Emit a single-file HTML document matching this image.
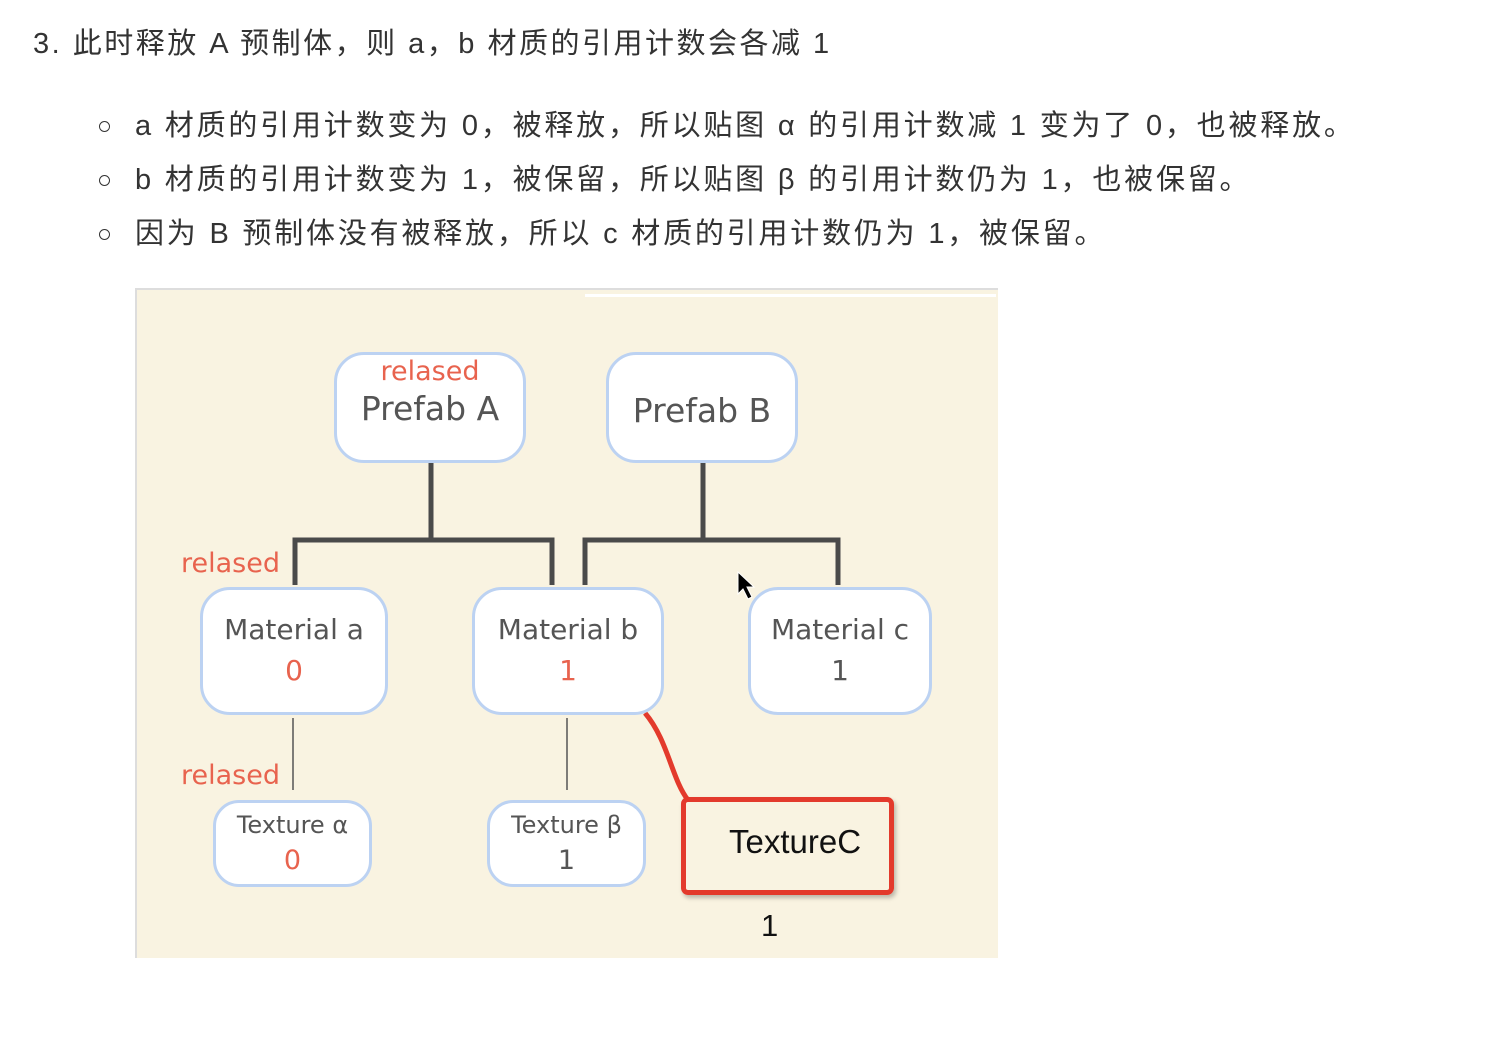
<!DOCTYPE html>
<html><head><meta charset="utf-8">
<style>
body{margin:0;width:1494px;height:1046px;background:#fff;position:relative;overflow:hidden;font-family:"Liberation Sans","Noto Sans CJK SC",sans-serif;color:#333}
.t{position:absolute;white-space:nowrap;font-size:29px;line-height:34px;letter-spacing:2.8px}
.b{position:absolute;width:9px;height:9px;border:1.6px solid #333;border-radius:50%}
.panel{position:absolute;left:135px;top:288px;width:861px;height:668px;background:#f9f3e1;border-top:2px solid #ddd;border-left:2px solid #ddd}
.n{position:absolute;background:#fff;border:3px solid #bcd2f2;border-radius:30px;box-sizing:border-box;text-align:center;color:#555;font-family:"DejaVu Sans","Liberation Sans",sans-serif}
.r{color:#e8634e}
.lbl{position:absolute;font-family:"DejaVu Sans",sans-serif;color:#e8634e;font-size:27px;white-space:nowrap}
</style></head><body>
<div class="t" style="left:33px;top:27px;letter-spacing:2.5px">3. 此时释放 A 预制体，则 a，b 材质的引用计数会各减 1</div>
<div class="b" style="left:99px;top:121px"></div>
<div class="t" style="left:135px;top:109px">a 材质的引用计数变为 0，被释放，所以贴图 α 的引用计数减 1 变为了 0，也被释放。</div>
<div class="b" style="left:99px;top:175px"></div>
<div class="t" style="left:135px;top:163px">b 材质的引用计数变为 1，被保留，所以贴图 β 的引用计数仍为 1，也被保留。</div>
<div class="b" style="left:99px;top:229px"></div>
<div class="t" style="left:135px;top:217px">因为 B 预制体没有被释放，所以 c 材质的引用计数仍为 1，被保留。</div>

<div class="panel"></div>
<div style="position:absolute;left:585px;top:294px;width:411px;height:3px;background:#fff"></div>
<svg style="position:absolute;left:0;top:0" width="1494" height="1046">
<g stroke="#4a4a4a" stroke-width="5" fill="none">
<path d="M431 463V540M295 585V540H552V585M703 463V540M585 585V540H838V585"/>
</g>
<g stroke="#555" stroke-width="1.5"><path d="M293 718V790M567 718V790"/></g>
<path d="M645 713C668 740 672 780 688 800" stroke="#e33a2c" stroke-width="5" fill="none"/>
<path d="M738 572L738 594L743 589L748 599L752 597L747 587L754 587Z" fill="#000" stroke="#fff" stroke-width="1"/>
</svg>

<div class="n" style="left:334px;top:352px;width:192px;height:111px"><div class="r" style="font-size:27px;line-height:34px">relased</div><div style="font-size:33px;line-height:40px">Prefab A</div></div>
<div class="n" style="left:606px;top:352px;width:192px;height:111px"><div style="font-size:33px;line-height:40px;margin-top:36px">Prefab B</div></div>
<div class="n" style="left:200px;top:587px;width:188px;height:128px"><div style="font-size:28px;line-height:40px;margin-top:20px">Material a</div><div class="r" style="font-size:28px;line-height:42px">0</div></div>
<div class="n" style="left:472px;top:587px;width:192px;height:128px"><div style="font-size:28px;line-height:40px;margin-top:20px">Material b</div><div class="r" style="font-size:28px;line-height:42px">1</div></div>
<div class="n" style="left:748px;top:587px;width:184px;height:128px"><div style="font-size:28px;line-height:40px;margin-top:20px">Material c</div><div style="font-size:28px;line-height:42px">1</div></div>
<div class="n" style="left:213px;top:800px;width:159px;height:87px;border-radius:26px"><div style="font-size:24px;line-height:36px;margin-top:4px">Texture α</div><div class="r" style="font-size:27px;line-height:36px">0</div></div>
<div class="n" style="left:487px;top:800px;width:159px;height:87px;border-radius:26px"><div style="font-size:24px;line-height:36px;margin-top:4px">Texture β</div><div style="font-size:27px;line-height:36px">1</div></div>
<div class="lbl" style="left:181px;top:548px">relased</div>
<div class="lbl" style="left:181px;top:760px">relased</div>
<div style="position:absolute;left:681px;top:797px;width:213px;height:98px;border:5px solid #e33a2c;border-radius:7px;box-sizing:border-box;box-shadow:2px 3px 4px rgba(0,0,0,.25)"></div>
<div style="position:absolute;left:729px;top:823px;font-size:33px;color:#111;font-family:'Liberation Sans',sans-serif">TextureC</div>
<div style="position:absolute;left:761px;top:908px;font-size:31px;color:#111;font-family:'Liberation Sans',sans-serif">1</div>
</body></html>
